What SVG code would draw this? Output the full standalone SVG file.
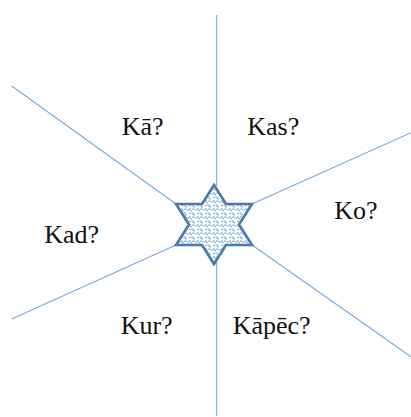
<svg xmlns="http://www.w3.org/2000/svg" width="411" height="417" viewBox="0 0 411 417">
  <style>
    .ray { stroke: #7aa8d8; stroke-width: 1.1; fill: none; }
    .lbl { font-family: "Liberation Serif", "Times New Roman", Tinos, "Nimbus Roman", "Nimbus Roman No9 L", FreeSerif, "Noto Serif", "DejaVu Serif", Georgia, serif; font-size: 26px; fill: #111; }
    .star { fill: url(#squiggle); stroke: #4a7aab; stroke-width: 2.6; stroke-linejoin: miter; }
  </style>
  <defs>
    <pattern id="squiggle" width="8" height="8" patternUnits="userSpaceOnUse">
      <rect width="8" height="8" fill="#ffffff"/>
      <path d="M0 1.5 q1.2 -1.5 2.5 0 t2.5 0 M5 5 q1.2 1.5 2.5 0 M1 4 v2.5 q1 1 2 0 M6 0 v2 q1 1 2 1" fill="none" stroke="#5b93cf" stroke-width="0.9"/>
    </pattern>
  </defs>
  <rect width="411" height="417" fill="#ffffff"/>
  <g id="connectors">
    <line class="ray" x1="216.7" y1="15" x2="216.7" y2="186"/>
    <line class="ray" x1="216.7" y1="262" x2="216.7" y2="416"/>
    <line class="ray" x1="11.7" y1="86" x2="176" y2="204"/>
    <line class="ray" x1="252" y1="204" x2="411" y2="132.7"/>
    <line class="ray" x1="11.7" y1="319" x2="176" y2="245"/>
    <line class="ray" x1="252" y1="245" x2="411" y2="356.7"/>
  </g>
  <g id="star">
    <path class="star" d="M214 185 L226 204 L252 204 L239 224.5 L252 245 L226 245 L214 264 L202 245 L176 245 L189 224.5 L176 204 L202 204 Z"/>
  </g>
  <g id="node-ka"><text class="lbl" x="121.7" y="135">Kā?</text></g>
  <g id="node-kas"><text class="lbl" x="247.3" y="135">Kas?</text></g>
  <g id="node-ko"><text class="lbl" x="334.3" y="219">Ko?</text></g>
  <g id="node-kad"><text class="lbl" x="44.3" y="243.3">Kad?</text></g>
  <g id="node-kur"><text class="lbl" x="120.7" y="334.3">Kur?</text></g>
  <g id="node-kapec"><text class="lbl" x="232.7" y="334.3">Kāpēc?</text></g>
</svg>
